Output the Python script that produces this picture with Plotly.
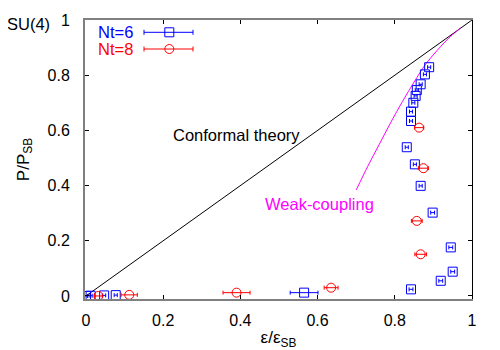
import plotly.graph_objects as go

# --- data ---
nt6_eps = [0.0, 0.012, 0.047, 0.077, 0.565, 0.842, 0.919, 0.950, 0.945, 0.898,
           0.867, 0.852, 0.831, 0.842, 0.842, 0.848, 0.854, 0.857, 0.867, 0.878, 0.889]
nt6_p = [0.0, 0.001, 0.002, 0.003, 0.012, 0.024, 0.055, 0.088, 0.176, 0.302,
         0.399, 0.477, 0.539, 0.634, 0.668, 0.700, 0.725, 0.746, 0.767, 0.803, 0.829]
nt6_err = [0.004, 0.004, 0.004, 0.004, 0.036, 0.005, 0.005, 0.005, 0.005, 0.005,
           0.004, 0.004, 0.004, 0.004, 0.004, 0.004, 0.004, 0.004, 0.004, 0.004, 0.004]

nt8_eps = [0.032, 0.112, 0.390, 0.635, 0.863, 0.874, 0.857, 0.867]
nt8_p = [0.0, 0.004, 0.012, 0.030, 0.610, 0.463, 0.272, 0.151]
nt8_err = [0.010, 0.021, 0.035, 0.018, 0.012, 0.013, 0.014, 0.015]

conf_x = [0.0, 1.0]
conf_y = [0.0, 1.0]

weak_x = [0.70, 0.73, 0.76, 0.79, 0.82, 0.85, 0.88, 0.91, 0.94, 0.97]
weak_y = [0.384, 0.47, 0.55, 0.63, 0.705, 0.775, 0.84, 0.89, 0.935, 0.97]

BLUE = "#0000ff"
RED = "#ff0000"
MAGENTA = "#ff00ff"
FONT = "Liberation Sans, Arial, sans-serif"

fig = go.Figure()

fig.add_trace(go.Scatter(
    x=conf_x, y=conf_y, mode="lines", line=dict(color="black", width=1),
    showlegend=False, hoverinfo="skip"))

fig.add_trace(go.Scatter(
    x=weak_x, y=weak_y, mode="lines", line=dict(color=MAGENTA, width=1, shape="spline"),
    showlegend=False, hoverinfo="skip"))

fig.add_trace(go.Scatter(
    x=nt6_eps, y=nt6_p, mode="markers", name="Nt=6",
    marker=dict(symbol="square-open", size=9, color=BLUE, line=dict(width=1, color=BLUE)),
    error_x=dict(type="data", array=nt6_err, color=BLUE, thickness=1, width=2),
    showlegend=False))

fig.add_trace(go.Scatter(
    x=nt8_eps, y=nt8_p, mode="markers", name="Nt=8",
    marker=dict(symbol="circle-open", size=9, color=RED, line=dict(width=1, color=RED)),
    error_x=dict(type="data", array=nt8_err, color=RED, thickness=1, width=2),
    showlegend=False))

# invisible trace just to draw the black right-hand border with ticks
fig.add_trace(go.Scatter(x=[0], y=[0], yaxis="y2", mode="markers",
                         marker=dict(opacity=0), showlegend=False, hoverinfo="skip"))

# --- manual gnuplot-style key (text left, sample right) ---
# page body has an 8px margin, so the figure is 8px smaller than the window
PX, PY = 387.0, 279.0
def px(x):
    return (x - 85) / PX
def py(y):
    return (299 - y) / PY

shapes = []
for yy, col, sym in [(32.3, BLUE, "rect"), (49.0, RED, "circle")]:
    shapes.append(dict(type="line", xref="paper", yref="paper",
                       x0=px(144), x1=px(193), y0=py(yy), y1=py(yy),
                       line=dict(color=col, width=1)))
    for cx in (144, 193):
        shapes.append(dict(type="line", xref="paper", yref="paper",
                           x0=px(cx), x1=px(cx), y0=py(yy - 2.5), y1=py(yy + 2.5),
                           line=dict(color=col, width=1)))
    shapes.append(dict(type=sym, xref="paper", yref="paper",
                       xsizemode="pixel", ysizemode="pixel",
                       xanchor=px(169.3), yanchor=py(yy),
                       x0=-4.5, x1=4.5, y0=-4.5, y1=4.5,
                       line=dict(color=col, width=1), fillcolor="rgba(0,0,0,0)"))

annotations = [
    dict(text="Nt=6", xref="paper", yref="paper", x=px(135), y=py(32.3),
         xanchor="right", yanchor="middle", showarrow=False,
         font=dict(color=BLUE, size=16.5, family=FONT)),
    dict(text="Nt=8", xref="paper", yref="paper", x=px(135), y=py(49),
         xanchor="right", yanchor="middle", showarrow=False,
         font=dict(color=RED, size=16.5, family=FONT)),
    dict(text="SU(4)", xref="paper", yref="paper", x=px(28.5), y=py(24),
         xanchor="center", yanchor="middle", showarrow=False,
         font=dict(color="black", size=16.5, family=FONT)),
    dict(text="Conformal theory", x=0.39, y=0.583, showarrow=False,
         xanchor="center", yanchor="middle",
         font=dict(color="black", size=16.5, family=FONT)),
    dict(text="Weak-coupling", x=0.604, y=0.333, showarrow=False,
         xanchor="center", yanchor="middle",
         font=dict(color=MAGENTA, size=16.5, family=FONT)),
]

axis_common = dict(
    showgrid=False, zeroline=False, showline=True, linecolor="#808080", linewidth=2,
    ticks="inside", ticklen=4, tickcolor="black", tickwidth=1, automargin=False,
    tickfont=dict(size=16, family=FONT, color="black"),
)

fig.update_layout(
    width=492, height=342,
    margin=dict(l=77, r=28, t=12, b=51),
    plot_bgcolor="white", paper_bgcolor="white",
    showlegend=False,
    shapes=shapes,
    annotations=annotations,
    xaxis=dict(range=[-0.0026, 1.0], tickvals=[0, 0.2, 0.4, 0.6, 0.8, 1],
               ticktext=["0", "0.2", "0.4", "0.6", "0.8", "1"],
               mirror="ticks", ticklabelstandoff=6,
               title=dict(text="ε/ε<sub>SB</sub>",
                          font=dict(size=17, family=FONT, color="black"),
                          standoff=4),
               **axis_common),
    yaxis=dict(range=[-0.011, 1.0], tickvals=[0, 0.2, 0.4, 0.6, 0.8, 1],
               ticktext=["0", "0.2", "0.4", "0.6", "0.8", "1"],
               mirror=False, ticklabelstandoff=10,
               title=dict(text="P/P<sub>SB</sub>",
                          font=dict(size=17, family=FONT, color="black"),
                          standoff=14),
               **axis_common),
    yaxis2=dict(overlaying="y", side="right", matches="y", showgrid=False,
                zeroline=False, showline=True, linecolor="black", linewidth=1,
                ticks="inside", ticklen=4, tickcolor="black", automargin=False,
                tickvals=[0, 0.2, 0.4, 0.6, 0.8, 1], showticklabels=False),
)

fig.write_html("out.html")
